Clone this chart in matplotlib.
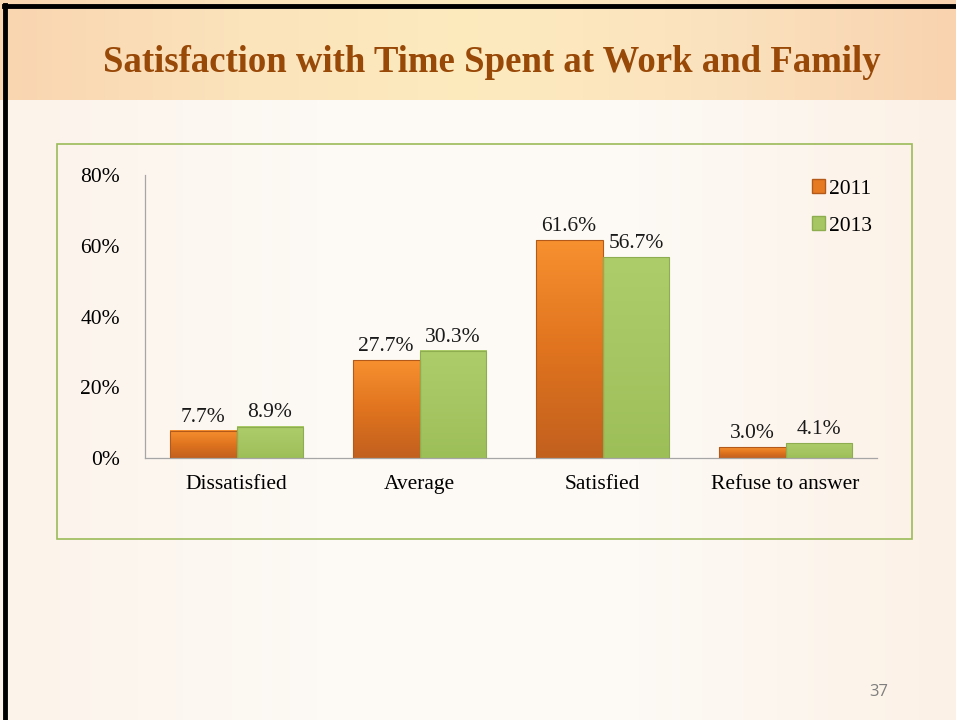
import numpy as np
import matplotlib.pyplot as plt
from matplotlib.colors import LinearSegmentedColormap
from matplotlib.patches import Rectangle

categories = ["Dissatisfied", "Average", "Satisfied", "Refuse to answer"]
years = ["2011", "2013"]
values_2011 = [7.7, 27.7, 61.6, 3.0]
values_2013 = [8.9, 30.3, 56.7, 4.1]
labels_2011 = ["7.7%", "27.7%", "61.6%", "3.0%"]
labels_2013 = ["8.9%", "30.3%", "56.7%", "4.1%"]
yticks = [0, 20, 40, 60, 80]

serif = ["Liberation Serif", "DejaVu Serif"]
title_color = "#984807"
fs = 15.5

fig = plt.figure(figsize=(9.56, 7.2), dpi=100)

# slide background
bg = fig.add_axes([0, 0, 1, 1])
bg.set_xlim(0, 956)
bg.set_ylim(720, 0)
bg.axis("off")
body = LinearSegmentedColormap.from_list("body", ["#FCF3EA", "#FDFAF5", "#FDFAF5", "#FCF1E6"])
bg.imshow(np.linspace(0, 1, 256)[None, :], cmap=body, aspect="auto",
          extent=[0, 956, 720, 100], zorder=0)
head = LinearSegmentedColormap.from_list("head", ["#F9D5B0", "#FBE3BC", "#FDEBBE", "#FBE2BE", "#F9D3B0"])
bg.imshow(np.linspace(0, 1, 256)[None, :], cmap=head, aspect="auto",
          extent=[0, 956, 100, 0], zorder=1)
bg.plot([5.5, 5.5], [5, 720], color="black", lw=3.5, zorder=3)
bg.plot([4, 956], [5.5, 5.5], color="black", lw=3.5, zorder=3)
bg.add_patch(Rectangle((57, 144), 855, 395, fill=False, ec="#9BBB59", lw=1.2, zorder=2))
bg.text(492, 62, "Satisfaction with Time Spent at Work and Family", ha="center", va="center",
        fontsize=26.5, fontweight="bold", color=title_color, family=serif, zorder=4)
bg.text(879, 692, "37", ha="center", va="center", fontsize=12, color="#7F7F7F",
        family=["Open Sans", "DejaVu Sans"], zorder=4)

ax = fig.add_axes([145 / 956, 1 - 458 / 720, 732 / 956, 283 / 720])
ax.patch.set_alpha(0)
x = np.arange(len(categories))
w = 0.366
orange = LinearSegmentedColormap.from_list("orange", ["#C2601E", "#E0741F", "#F7902F"])
green = LinearSegmentedColormap.from_list("green", ["#9DBF58", "#A6C663", "#ADCC6A"])
grad = np.linspace(0, 1, 100)[:, None]

for vals, labs, cmap, off, edge in [(values_2011, labels_2011, orange, -w / 2, "#B35A1A"),
                                    (values_2013, labels_2013, green, w / 2, "#8EAD50")]:
    bars = ax.bar(x + off, vals, w, color="none", edgecolor=edge, lw=0.8, zorder=3)
    for b, lab in zip(bars, labs):
        x0, h = b.get_x(), b.get_height()
        ax.imshow(grad, cmap=cmap, aspect="auto", origin="lower",
                  extent=[x0, x0 + w, 0, h], zorder=2)
        ax.text(x0 + w / 2, h + 1.2, lab, ha="center", va="bottom", fontsize=fs,
                family=serif, color="#1A1A1A")

ax.set_xlim(-0.5, len(categories) - 0.5)
ax.set_ylim(0, 80)
ax.set_yticks(yticks)
ax.set_yticklabels([f"{t}%" for t in yticks], family=serif, fontsize=fs)
ax.set_xticks(x)
ax.set_xticklabels(categories, family=serif, fontsize=fs)
ax.tick_params(length=0, pad=12)
ax.tick_params(axis="y", pad=18)
for s in ["top", "right"]:
    ax.spines[s].set_visible(False)
for s in ["left", "bottom"]:
    ax.spines[s].set_color("#A6A6A6")
    ax.spines[s].set_linewidth(0.9)

handles = [Rectangle((0, 0), 1, 1, fc="#E57A22", ec="#B35A1A"),
           Rectangle((0, 0), 1, 1, fc="#A6C663", ec="#8EAD50")]
ax.legend(handles, years, loc="upper left", bbox_to_anchor=(0.9, 1.015), frameon=False,
          prop={"family": serif, "size": fs}, handlelength=0.6, handleheight=0.6,
          handletextpad=0.15, labelspacing=0.82, borderaxespad=0)

fig.savefig("out.png", dpi=100)
